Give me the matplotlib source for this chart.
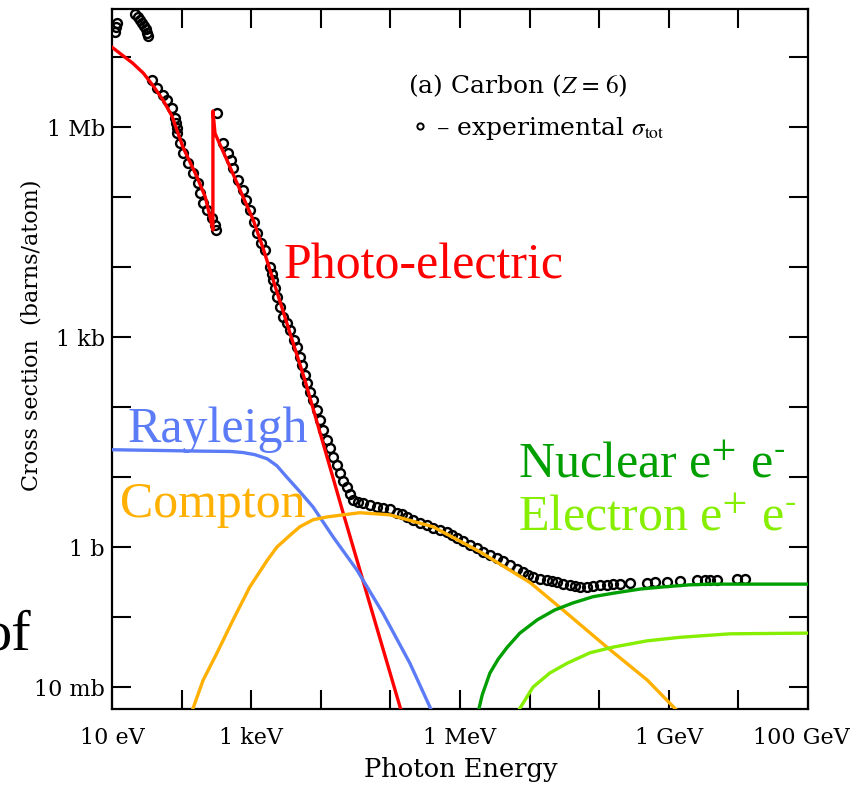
import matplotlib
matplotlib.use("Agg")
import matplotlib.pyplot as plt
from matplotlib.lines import Line2D
from matplotlib.ticker import NullLocator
from matplotlib.transforms import ScaledTranslation
import numpy as np

plt.rcParams["mathtext.fontset"] = "stix"

# all values are log10(E / eV) and log10(sigma / barn)

# experimental total cross section (open circles)
exp_logE = [1.04, 1.06, 1.07, 1.33, 1.37, 1.40, 1.43, 1.46, 1.49, 1.50, 1.52,
            1.57, 1.65, 1.73, 1.79, 1.86, 1.91, 1.92, 1.93, 1.93, 1.98, 2.02, 2.09,
            2.16, 2.24, 2.26, 2.31, 2.36, 2.44, 2.48, 2.49,
            2.51, 2.59, 2.67, 2.71, 2.74, 2.81, 2.88, 2.93, 2.98, 3.04, 3.08,
            3.14, 3.20, 3.27, 3.30, 3.31, 3.34, 3.37, 3.41, 3.46, 3.51, 3.56, 3.61,
            3.66, 3.70, 3.73, 3.77, 3.80, 3.84, 3.89, 3.95, 3.99, 4.03, 4.09,
            4.13, 4.18, 4.23, 4.28, 4.32, 4.38, 4.42, 4.46, 4.53, 4.61, 4.71,
            4.81, 4.89, 4.99, 5.09, 5.17, 5.24, 5.32, 5.43, 5.53, 5.61, 5.71,
            5.81, 5.89, 5.96, 6.04, 6.14, 6.24, 6.33, 6.43, 6.53, 6.62, 6.72,
            6.82, 6.91, 6.98, 7.05, 7.15, 7.25, 7.32, 7.39, 7.48, 7.58, 7.65,
            7.72, 7.82, 7.91, 8.01, 8.11, 8.20, 8.30, 8.44, 8.69, 8.80, 8.97,
            9.16, 9.40, 9.52, 9.59, 9.69, 9.98, 10.09]
exp_logS = [7.36, 7.43, 7.49, 7.61, 7.57, 7.53, 7.49, 7.44, 7.40, 7.34, 7.30,
            6.67, 6.56, 6.46, 6.39, 6.27, 6.13, 6.06, 5.99, 5.91, 5.77, 5.63, 5.49,
            5.34, 5.20, 5.06, 4.91, 4.81, 4.70, 4.60, 4.53,
            6.20, 5.77, 5.63, 5.53, 5.41, 5.24, 5.10, 4.96, 4.81, 4.64, 4.49,
            4.34, 4.24, 4.00, 3.90, 3.81, 3.70, 3.57, 3.43, 3.29, 3.20, 3.10, 2.96,
            2.86, 2.71, 2.60, 2.46, 2.34, 2.21, 2.10, 1.96, 1.81, 1.67, 1.53,
            1.41, 1.29, 1.17, 1.06, 0.94, 0.86, 0.76, 0.67, 0.64, 0.63, 0.60,
            0.57, 0.56, 0.54, 0.49, 0.47, 0.43, 0.39, 0.34, 0.31, 0.27, 0.24,
            0.21, 0.17, 0.13, 0.09, 0.03, -0.01, -0.07, -0.11, -0.16, -0.20, -0.26,
            -0.31, -0.36, -0.40, -0.43, -0.46, -0.47, -0.49, -0.50, -0.53, -0.54, -0.56,
            -0.57, -0.57, -0.56, -0.54, -0.54, -0.53, -0.53, -0.51, -0.51, -0.50, -0.50,
            -0.49, -0.47, -0.47, -0.47, -0.47, -0.46, -0.46]

photo_logE = [1.00, 1.30, 1.45, 1.59, 1.73, 1.86, 2.02, 2.22, 2.34, 2.41, 2.45,
              2.45, 2.48, 2.65, 2.84, 3.03, 3.17, 3.77, 4.32, 5.14, 5.17]
photo_logS = [7.14, 6.91, 6.77, 6.59, 6.39, 6.16, 5.71, 5.29, 5.00, 4.71, 4.53,
              6.23, 5.91, 5.53, 5.10, 4.67, 4.27, 2.39, 0.49, -2.29, -2.40]

rayleigh_logE = [1.00, 2.26, 2.70, 2.88, 3.05, 3.23, 3.37, 3.51, 3.70, 3.89,
                 4.18, 4.52, 4.89, 5.28, 5.57, 5.62]
rayleigh_logS = [1.39, 1.37, 1.365, 1.35, 1.32, 1.26, 1.16, 1.00, 0.79, 0.57,
                 0.14, -0.33, -0.94, -1.66, -2.29, -2.40]

compton_logE = [2.13, 2.31, 2.51, 2.74, 2.98, 3.23, 3.37, 3.56, 3.70, 3.89,
                4.09, 4.56, 4.99, 5.61, 6.29, 7.01, 7.48, 8.11, 8.69, 9.18]
compton_logS = [-2.40, -1.90, -1.51, -1.04, -0.57, -0.19, 0.00, 0.17, 0.29, 0.39,
                0.43, 0.49, 0.46, 0.29, -0.07, -0.51, -0.90, -1.43, -1.90, -2.40]

nuclear_logE = [6.25, 6.32, 6.43, 6.55, 6.68, 6.86, 7.11, 7.36, 7.62, 7.91,
                8.20, 8.59, 8.92, 9.30, 9.64, 10.31, 11.0]
nuclear_logS = [-2.40, -2.11, -1.80, -1.60, -1.43, -1.23, -1.04, -0.90, -0.80, -0.71,
                -0.66, -0.60, -0.57, -0.54, -0.53, -0.53, -0.53]

electron_logE = [6.80, 7.05, 7.29, 7.54, 7.87, 8.20, 8.69, 9.16, 9.88, 11.0]
electron_logS = [-2.40, -2.00, -1.80, -1.66, -1.51, -1.43, -1.34, -1.29, -1.24, -1.23]

xtick_exp = list(range(1, 12))
xtick_labels = {1: "10 eV", 3: "1 keV", 6: "1 MeV", 9: "1 GeV", 11: "100 GeV"}
ytick_exp = list(range(-2, 8))
ytick_labels = {-2: "10 mb", 0: "1 b", 3: "1 kb", 6: "1 Mb"}


def pw(v):
    return 10.0 ** np.asarray(v, dtype=float)


serif = "DejaVu Serif"
times = "Liberation Serif"

fig = plt.figure(figsize=(8.53, 7.85), dpi=100)
ax = fig.add_axes([112 / 853, 1 - 709 / 785, 696 / 853, 700 / 785])
ax.set_xscale("log")
ax.set_yscale("log")

ax.plot(pw(exp_logE), pw(exp_logS), "o", mfc="none", mec="black", ms=6.4,
        mew=1.7, zorder=2)
lw = 2.4
ax.plot(pw(photo_logE), pw(photo_logS), color="#ff0000", lw=lw, zorder=3)
ax.plot(pw(rayleigh_logE), pw(rayleigh_logS), color="#5b7cf6", lw=lw, zorder=3)
ax.plot(pw(compton_logE), pw(compton_logS), color="#ffb000", lw=lw, zorder=3)
ax.plot(pw(nuclear_logE), pw(nuclear_logS), color="#009f00", lw=lw, zorder=3)
ax.plot(pw(electron_logE), pw(electron_logS), color="#86ee00", lw=lw, zorder=3)

ax.set_xlim(1e1, 1e11)
ax.set_ylim(10 ** -2.314, 10 ** 7.686)

ax.set_xticks(pw(xtick_exp))
ax.set_xticklabels([xtick_labels.get(e, "") for e in xtick_exp])
ax.set_yticks(pw(ytick_exp))
ax.set_yticklabels([ytick_labels.get(e, "") for e in ytick_exp])
ax.xaxis.set_minor_locator(NullLocator())
ax.yaxis.set_minor_locator(NullLocator())
ax.tick_params(direction="in", length=14, width=1.5, top=True, right=True,
               labelsize=16)
ax.tick_params(axis="x", pad=13)
ax.tick_params(axis="y", pad=5)
for lab in ax.get_xticklabels() + ax.get_yticklabels():
    lab.set_family(serif)
# the last x label sits a little left of its tick in the original
last = ax.get_xticklabels()[-1]
last.set_transform(last.get_transform() + ScaledTranslation(-0.07, 0, fig.dpi_scale_trans))
for s in ax.spines.values():
    s.set_linewidth(1.6)

# process labels
big = 36
sup = "e$^{+}$ e$^{\\text{-}}$"
ax.text(10 ** 3.46, 10 ** 3.84, "Photo-electric", color="#ff0000",
        fontsize=big, family=times, va="baseline")
ax.text(10 ** 1.23, 10 ** 1.50, "Rayleigh", color="#5b7cf6",
        fontsize=big, family=times, va="baseline")
ax.text(10 ** 1.11, 10 ** 0.43, "Compton", color="#ffb000",
        fontsize=big, family=times, va="baseline")
ax.text(10 ** 6.83, 10 ** 1.00, "Nuclear " + sup, color="#009f00",
        fontsize=big, family=times, va="baseline")
ax.text(10 ** 6.83, 10 ** 0.24, "Electron " + sup, color="#86ee00",
        fontsize=big, family=times, va="baseline")

ax.text(10 ** 5.25, 10 ** 6.49, "(a) Carbon ($Z\\,=\\,6$)", fontsize=18,
        family=serif, va="baseline")
key = Line2D([], [], marker="o", ls="none", mfc="none", mec="black", ms=4.5, mew=1.4)
ax.legend([key], ["– experimental $\\sigma_{\\mathrm{tot}}$"], loc="center left",
          bbox_to_anchor=(0.4325, 0.83), frameon=False, borderpad=0,
          borderaxespad=0, handlelength=0.55, handletextpad=0.35,
          prop={"family": serif, "size": 18})

fig.text(32 / 853, 1 - 335 / 785, "Cross section  (barns/atom)", rotation=90,
         ha="center", va="center", fontsize=16, family=serif)
fig.text(461 / 853, 1 - 770 / 785, "Photon Energy", ha="center", va="center",
         fontsize=18.5, family=serif)

# fragment of neighbouring text cut off at the left edge of the scan
fig.text(-17 / 853, 1 - 650 / 785, "of", fontsize=42, family=times,
         va="baseline")

fig.savefig("out.png", dpi=100)
